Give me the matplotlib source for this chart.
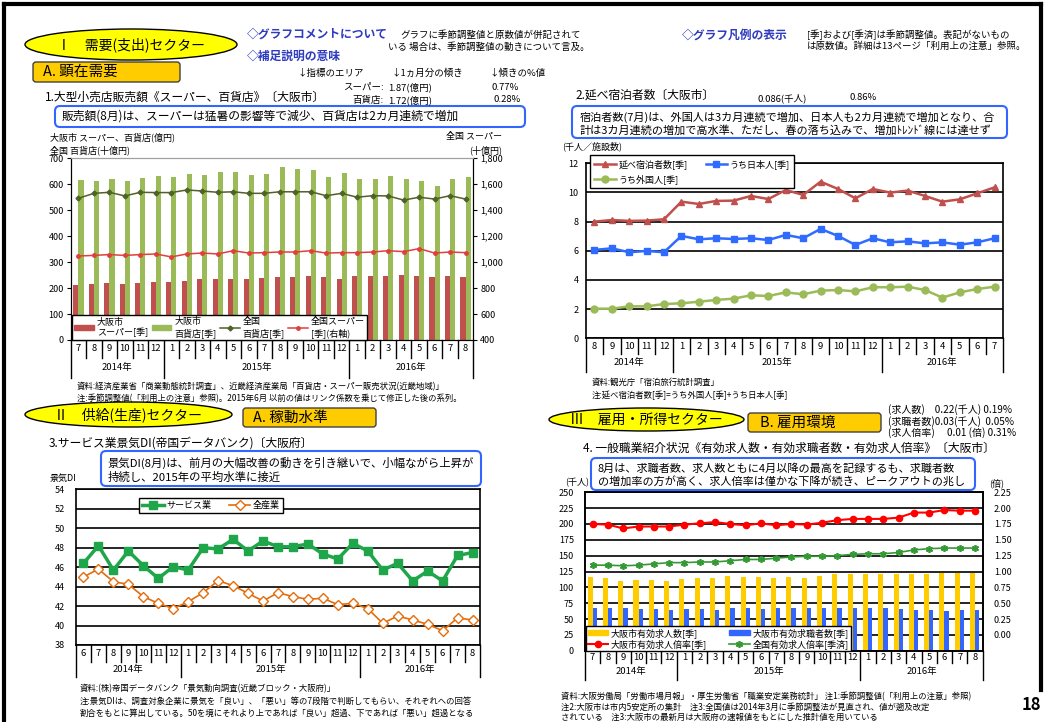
import numpy as np
import matplotlib
matplotlib.use('Agg')
import matplotlib.pyplot as plt
from matplotlib.patches import Ellipse, FancyBboxPatch, Patch
from matplotlib.lines import Line2D
from matplotlib.transforms import Affine2D, blended_transform_factory

plt.rcParams['font.family'] = ['Noto Sans CJK JP', 'DejaVu Sans']
plt.rcParams['axes.unicode_minus'] = False

# ---- data -------------------------------------------------------------
# 1. 大型小売店販売額 (2014/7 - 2016/8)
months_1 = ['7', '8', '9', '10', '11', '12', '1', '2', '3', '4', '5', '6', '7', '8', '9', '10', '11', '12',
            '1', '2', '3', '4', '5', '6', '7', '8']
years_1 = ['2014年', '2015年', '2016年']
year_len_1 = [6, 12, 8]
osaka_super = [210, 215, 218, 217, 220, 224, 224, 229, 234, 234, 236, 234, 240, 242, 243, 248, 242, 236,
               245, 245, 245, 252, 248, 242, 248, 242]
osaka_dept = [615, 612, 620, 612, 625, 630, 628, 640, 635, 647, 647, 635, 640, 665, 660, 653, 628, 643,
              622, 622, 630, 622, 612, 595, 622, 628]
national_dept = [546, 565, 569, 555, 569, 568, 568, 578, 574, 569, 571, 565, 565, 571, 571, 571, 556, 565,
                 550, 556, 555, 539, 550, 543, 556, 543]
national_super = [1047, 1052, 1058, 1052, 1058, 1063, 1040, 1063, 1070, 1063, 1088, 1070, 1073, 1078, 1078,
                  1088, 1070, 1073, 1073, 1078, 1088, 1081, 1104, 1070, 1078, 1073]

# 2. 延べ宿泊者数 (2014/8 - 2016/7)
months_2 = ['8', '9', '10', '11', '12', '1', '2', '3', '4', '5', '6', '7', '8', '9', '10', '11', '12',
            '1', '2', '3', '4', '5', '6', '7']
years_2 = ['2014年', '2015年', '2016年']
year_len_2 = [5, 12, 7]
total_guests = [8.0, 8.11, 8.05, 8.07, 8.16, 9.37, 9.21, 9.42, 9.44, 9.76, 9.55, 10.17, 9.83, 10.74, 10.24,
                9.6, 10.24, 9.99, 10.13, 9.76, 9.37, 9.53, 9.94, 10.35]
japanese_guests = [6.06, 6.17, 5.9, 5.99, 5.9, 7.02, 6.79, 6.86, 6.81, 6.86, 6.74, 7.09, 6.86, 7.5, 7.02,
                   6.4, 6.86, 6.58, 6.65, 6.51, 6.58, 6.42, 6.58, 6.86]
foreign_guests = [2.03, 2.03, 2.19, 2.19, 2.35, 2.4, 2.51, 2.63, 2.72, 2.95, 2.9, 3.15, 3.02, 3.27, 3.31,
                  3.22, 3.5, 3.5, 3.54, 3.31, 2.79, 3.15, 3.38, 3.54]

# 3. サービス業景気DI (2014/6 - 2016/8)
months_3 = ['6', '7', '8', '9', '10', '11', '12', '1', '2', '3', '4', '5', '6', '7', '8', '9', '10', '11',
            '12', '1', '2', '3', '4', '5', '6', '7', '8']
years_3 = ['2014年', '2015年', '2016年']
year_len_3 = [7, 12, 8]
service_di = [46.4, 48.2, 45.7, 47.66, 46.15, 44.85, 46.05, 45.7, 48.0, 47.87, 48.86, 47.66, 48.69, 48.1,
              48.1, 48.38, 47.35, 46.84, 48.45, 47.66, 45.7, 46.4, 44.58, 45.6, 44.58, 47.2, 47.5]
all_industry_di = [45.0, 45.8, 44.5, 44.24, 42.97, 42.28, 41.74, 42.45, 43.38, 44.61, 44.1, 43.31, 42.52,
                   43.38, 42.97, 42.7, 42.8, 42.15, 42.28, 41.74, 40.23, 40.98, 40.57, 40.13, 39.47, 40.78,
                   40.57]

# 4. 一般職業紹介状況 (2014/7 - 2016/8)
months_4 = months_1
years_4 = years_1
year_len_4 = year_len_1
job_offers = [115.8, 114.2, 110.5, 111.6, 111.6, 110.5, 112.6, 114.7, 114.7, 117.9, 115.8, 115.8, 114.7,
              115.8, 114.7, 117.9, 120.5, 121.6, 121.0, 121.0, 121.0, 121.6, 121.6, 122.6, 122.6, 122.6]
job_seekers = [66.8, 66.8, 66.8, 65.8, 65.8, 64.7, 65.8, 65.8, 64.7, 67.9, 67.9, 65.8, 66.8, 66.8, 66.8,
               66.8, 66.8, 66.8, 66.8, 66.8, 65.8, 63.7, 63.7, 62.6, 63.7, 63.7]
osaka_ratio = [1.75, 1.74, 1.68, 1.71, 1.71, 1.71, 1.74, 1.76, 1.78, 1.75, 1.73, 1.76, 1.73, 1.75, 1.74,
               1.77, 1.81, 1.83, 1.83, 1.83, 1.85, 1.93, 1.93, 1.97, 1.96, 1.96]
national_ratio = [1.10, 1.10, 1.09, 1.10, 1.12, 1.14, 1.14, 1.15, 1.15, 1.17, 1.19, 1.19, 1.21, 1.23, 1.24,
                  1.24, 1.25, 1.27, 1.28, 1.28, 1.30, 1.34, 1.36, 1.37, 1.37, 1.37]

# ---- page setup -------------------------------------------------------
W, H = 1045, 722
fig = plt.figure(figsize=(W / 100, H / 100), dpi=100)
# pixel coordinates, origin at top-left
PX = Affine2D().scale(1 / W, -1 / H).translate(0, 1) + fig.transFigure

BLUE_HEAD = '#2E3BBF'
SMALL = 6.8
NOTE = 6.0
TICK = 6.5


def txt(x, y, s, size=SMALL, ha='left', **kw):
    fig.text(x, y, s, transform=PX, fontsize=size, ha=ha, va='center', **kw)


def rbox(x0, y0, x1, y1, fc='white', ec='#3366FF', lw=1.5, r=5):
    fig.add_artist(FancyBboxPatch((x0, y0), x1 - x0, y1 - y0, transform=PX,
                                  boxstyle='round,pad=0,rounding_size=%g' % r, fc=fc, ec=ec, lw=lw))


def oval(x0, y0, x1, y1, s):
    fig.add_artist(Ellipse(((x0 + x1) / 2, (y0 + y1) / 2), x1 - x0, y1 - y0, transform=PX,
                           fc='#FFFF00', ec='black', lw=1))
    txt((x0 + x1) / 2, (y0 + y1) / 2, s, size=10, ha='center')


def add_ax(l, t, r, b):
    return fig.add_axes([l / W, 1 - b / H, (r - l) / W, (b - t) / H])


def month_table(ax, months, years, year_len, plot_h, row1, row2):
    tr = blended_transform_factory(ax.transData, ax.transAxes)
    y1 = -row1 / plot_h
    y2 = -row2 / plot_h
    for i, m in enumerate(months):
        ax.text(i, y1 / 2, m, transform=tr, ha='center', va='center', fontsize=TICK + 0.3, clip_on=False)
    bounds = list(np.cumsum(year_len))
    for k in range(len(months) + 1):
        bottom = y2 if (k == 0 or k in bounds) else y1
        ax.plot([k - 0.5, k - 0.5], [0, bottom], transform=tr, color='black', lw=1, clip_on=False)
    start = 0
    for name, n in zip(years, year_len):
        ax.text(start + n / 2 - 0.5, (y1 + y2) / 2, name, transform=tr, ha='center', va='center',
                fontsize=TICK + 0.3, clip_on=False)
        start += n


def box_legend(ax, handles, labels, anchor, loc, ncol, **kw):
    opts = dict(fontsize=TICK, frameon=True, fancybox=False, edgecolor='black', framealpha=1,
                borderaxespad=0, handlelength=2.4, handletextpad=0.3)
    opts.update(kw)
    leg = ax.legend(handles, labels, ncol=ncol, loc=loc, bbox_to_anchor=anchor, **opts)
    leg.get_frame().set_linewidth(1)
    return leg


# outer frame: top, left, and right (the right edge stops above the page number)
fig.add_artist(Line2D([4, 1041], [4, 4], transform=PX, color='black', lw=3))
fig.add_artist(Line2D([4, 4], [4, 722], transform=PX, color='black', lw=3))
fig.add_artist(Line2D([1041, 1041], [4, 690], transform=PX, color='black', lw=3))

# ---- header ---------------------------------------------------------------
oval(25, 29, 237, 60, 'Ⅰ　需要(支出)セクター')
rbox(33, 62, 180, 82, fc='#FFCC00', ec='#404040', lw=1, r=3)
txt(43, 72, 'A. 顕在需要', size=10.5)

txt(247, 34, '◇グラフコメントについて', size=8.5, color=BLUE_HEAD, fontweight='bold')
txt(247, 56, '◇補足説明の意味', size=8.5, color=BLUE_HEAD, fontweight='bold')
txt(400, 35, 'グラフに季節調整値と原数値が併記されて')
txt(388, 47, 'いる 場合は、季節調整値の動きについて言及。')
txt(682, 35, '◇グラフ凡例の表示', size=8.5, color=BLUE_HEAD, fontweight='bold')
txt(807, 35, '[季]および[季済]は季節調整値。表記がないもの')
txt(807, 46, 'は原数値。詳細は13ページ「利用上の注意」参照。')

txt(297, 73, '↓指標のエリア')
txt(392, 73, '↓1ヵ月分の傾き')
txt(490, 73, '↓傾きの%値')
txt(384, 87, 'スーパー:', ha='right')
txt(388, 87, '1.87(億円)')
txt(492, 87, '0.77%')
txt(384, 100, '百貨店:', ha='right')
txt(388, 100, '1.72(億円)')
txt(494, 100, '0.28%')

# ---- chart 1 ------------------------------------------------------------
txt(45, 97, '1.大型小売店販売額《スーパー、百貨店》〔大阪市〕', size=8.5)
rbox(55, 106, 525, 127)
txt(62, 116.5, '販売額(8月)は、スーパーは猛暑の影響等で減少、百貨店は2カ月連続で増加', size=8.5)
txt(50, 137, '大阪市 スーパー、百貨店(億円)', size=TICK)
txt(50, 150, '全国 百貨店(十億円)', size=TICK)
txt(502, 137, '全国 スーパー', size=TICK, ha='right')
txt(502, 150, '(十億円)', size=TICK, ha='right')

ax1 = add_ax(70.7, 158.3, 473.3, 340)
x1 = np.arange(len(months_1))
ax1.bar(x1 - 0.165, osaka_super, width=0.33, color='#C0504D', zorder=2)
ax1.bar(x1 + 0.165, osaka_dept, width=0.33, color='#9BBB59', zorder=2)
ax1.plot(x1, national_dept, color='#4F6228', marker='D', ms=2.5, lw=1.1, zorder=3)
ax1.set_xlim(-0.5, len(months_1) - 0.5)
ax1.set_ylim(0, 700)
ax1.set_yticks(range(0, 701, 100))
ax1.set_xticks([])
ax1b = ax1.twinx()
ax1b.plot(x1, national_super, color='#E0403A', marker='o', ms=2.5, lw=1.1, zorder=3)
ax1b.set_ylim(400, 1800)
ax1b.set_yticks(range(400, 1801, 200))
ax1b.set_yticklabels(['{:,}'.format(v) for v in range(400, 1801, 200)])
for a in (ax1, ax1b):
    a.tick_params(axis='y', direction='out', length=3, labelsize=TICK, pad=2)
    a.spines['top'].set_color('#A0A0A0')
month_table(ax1, months_1, years_1, year_len_1, 340 - 158.3, 18, 38)

h1 = [Patch(color='#C0504D'), Patch(color='#9BBB59'),
      Line2D([], [], color='#4F6228', marker='D', ms=2.5, lw=1.1),
      Line2D([], [], color='#E0403A', marker='o', ms=2.5, lw=1.1)]
l1 = ['大阪市\nスーパー[季]', '大阪市\n百貨店[季]', '全国\n百貨店[季]', '全国スーパー\n[季](右軸)']
box_legend(ax1b, h1, l1, (0.003, 0.0), 'lower left', 4, handlelength=2.2, handleheight=0.5,
           columnspacing=0.4, borderpad=0.25, labelspacing=0.1)

txt(77, 387, '資料:経済産業省「商業動態統計調査」、近畿経済産業局「百貨店・スーパー販売状況(近畿地域)」', size=NOTE)
txt(77, 399, '注:季節調整値(「利用上の注意」参照)。2015年6月 以前の値はリンク係数を乗じて修正した後の系列。', size=NOTE)

# ---- chart 2 ------------------------------------------------------------
txt(575, 95, '2.延べ宿泊者数〔大阪市〕', size=8.5)
txt(757, 98, '0.086(千人)')
txt(850, 98, '0.86%')
rbox(572, 106, 1007, 138)
txt(580, 117, '宿泊者数(7月)は、外国人は3カ月連続で増加、日本人も2カ月連続で増加となり、合', size=8.0)
txt(580, 130.5, '計は3カ月連続の増加で高水準、ただし、春の落ち込みで、増加ﾄﾚﾝﾄﾞ線には達せず', size=8.0)
txt(562, 146, '(千人／施設数)', size=TICK)

ax2 = add_ax(585.7, 163.3, 1003.3, 338.3)
x2 = np.arange(len(months_2))
p_tot, = ax2.plot(x2, total_guests, color='#C0504D', marker='^', ms=5, lw=1.8)
p_jp, = ax2.plot(x2, japanese_guests, color='#2F6BFF', marker='s', ms=4.5, lw=1.8)
p_fg, = ax2.plot(x2, foreign_guests, color='#9BBB59', marker='o', ms=5, lw=1.8)
ax2.set_xlim(-0.5, len(months_2) - 0.5)
ax2.set_ylim(0, 12)
ax2.set_yticks(range(0, 13, 2))
ax2.set_xticks([])
ax2.grid(axis='y', color='black', lw=1.2)
ax2.set_axisbelow(True)
ax2.tick_params(axis='y', length=0, labelsize=TICK, pad=5)
for s in ax2.spines.values():
    s.set_linewidth(1.2)
month_table(ax2, months_2, years_2, year_len_2, 175, 15.7, 33.4)
box_legend(ax2, [p_tot, p_fg, p_jp], ['延べ宿泊者数[季]', 'うち外国人[季]', 'うち日本人[季]'],
           (0.01, 1.047), 'upper left', 2, columnspacing=2.0, borderpad=0.45, labelspacing=0.55)
txt(592, 382, '資料:観光庁「宿泊旅行統計調査」', size=NOTE)
txt(592, 395, '注:延べ宿泊者数[季]=うち外国人[季]+うち日本人[季]', size=NOTE)

# ---- chart 3 ------------------------------------------------------------
oval(25, 402, 232, 427, 'Ⅱ　供給(生産)セクター')
rbox(243, 408, 376, 427, fc='#FFCC00', ec='#404040', lw=1, r=3)
txt(253, 418, 'A. 稼動水準', size=10.5)
txt(49, 443, '3.サービス業景気DI(帝国データバンク)〔大阪府〕', size=8.5)
rbox(101, 451, 481, 486)
txt(108, 463, '景気DI(8月)は、前月の大幅改善の動きを引き継いで、小幅ながら上昇が', size=8.2)
txt(108, 477, '持続し、2015年の平均水準に接近', size=8.2)
txt(50, 478, '景気DI', size=TICK)

ax3 = add_ax(76, 489.3, 480, 645)
x3 = np.arange(len(months_3))
p_sv, = ax3.plot(x3, service_di, color='#1FA54A', marker='s', ms=5.5, lw=2.5)
p_all, = ax3.plot(x3, all_industry_di, color='#E46C0A', marker='D', ms=5, mfc='white', mew=1, lw=1.2)
ax3.set_xlim(-0.5, len(months_3) - 0.5)
ax3.set_ylim(38, 54)
ax3.set_yticks(range(38, 55, 2))
ax3.set_xticks([])
ax3.grid(axis='y', color='black', lw=1.2)
ax3.set_axisbelow(True)
ax3.tick_params(axis='y', length=0, labelsize=TICK, pad=8)
for s in ax3.spines.values():
    s.set_linewidth(1.2)
month_table(ax3, months_3, years_3, year_len_3, 155.7, 16.7, 32.3)
box_legend(ax3, [p_sv, p_all], ['サービス業', '全産業'], (0.156, 0.946), 'upper left', 2,
           columnspacing=1.9, borderpad=0.35)
txt(80, 689, '資料:(株)帝国データバンク「景気動向調査(近畿ブロック・大阪府)」', size=NOTE)
txt(80, 701, '注:景気DIは、調査対象企業に景気を「良い」、「悪い」等の7段階で判断してもらい、それぞれへの回答', size=NOTE)
txt(80, 713, '割合をもとに算出している。50を境にそれより上であれば「良い」超過、下であれば「悪い」超過となる', size=NOTE)

# ---- chart 4 ------------------------------------------------------------
oval(549, 408, 744, 431, 'Ⅲ　雇用・所得セクター')
rbox(748, 413, 881, 432, fc='#FFCC00', ec='#404040', lw=1, r=3)
txt(760, 423, 'B. 雇用環境', size=10.5)
txt(888, 410, '(求人数)　0.22(千人) 0.19%', size=7.2)
txt(888, 421.5, '(求職者数)0.03(千人)  0.05%', size=7.2)
txt(888, 433, '(求人倍率)　 0.01 (倍) 0.31%', size=7.2)
txt(583, 448, '4. 一般職業紹介状況《有効求人数・有効求職者数・有効求人倍率》〔大阪市〕', size=8.5)
rbox(591, 458, 975, 490)
txt(598, 468.5, '8月は、求職者数、求人数ともに4月以降の最高を記録するも、求職者数', size=8.0)
txt(598, 481, 'の増加率の方が高く、求人倍率は僅かな下降が続き、ピークアウトの兆し', size=8.0)
txt(577, 483, '(千人)', size=TICK, ha='center')
txt(997, 483, '(倍)', size=TICK, ha='center')

ax4 = add_ax(585, 492.3, 982.7, 650.7)
x4 = np.arange(len(months_4))
ax4.bar(x4 - 0.165, job_offers, width=0.33, color='#FFCC00', zorder=2)
ax4.bar(x4 + 0.14, job_seekers, width=0.28, color='#3366FF', zorder=2)
ax4.set_xlim(-0.5, len(months_4) - 0.5)
ax4.set_ylim(0, 250)
ax4.set_yticks(range(0, 251, 25))
ax4.set_xticks([])
ax4.grid(axis='y', color='black', lw=1.2, zorder=0)
ax4.set_axisbelow(True)
ax4b = ax4.twinx()
p_or, = ax4b.plot(x4, osaka_ratio, color='#FF0000', marker='o', ms=4.5, lw=1.5)
p_nr, = ax4b.plot(x4, national_ratio, color='#339933', marker=(6, 2, 0), ms=5, mew=1.2, lw=1.2)
ax4b.set_ylim(-0.25, 2.25)
ax4b.set_yticks(np.arange(0, 2.26, 0.25))
ax4b.set_yticklabels(['%.2f' % v for v in np.arange(0, 2.26, 0.25)])
for a in (ax4, ax4b):
    a.tick_params(axis='y', length=0, labelsize=TICK, pad=8)
    for s in a.spines.values():
        s.set_linewidth(1.2)
month_table(ax4, months_4, years_4, year_len_4, 158.4, 12.6, 29.3)
h4 = [Patch(color='#FFCC00'), p_or, Patch(color='#3366FF'), p_nr]
l4 = ['大阪市有効求人数[季]', '大阪市有効求人倍率[季]', '大阪市有効求職者数[季]', '全国有効求人倍率[季済]']
box_legend(ax4b, h4, l4, (0.002, 0.0), 'lower left', 2, handlelength=2.3, handleheight=0.5,
           columnspacing=2.4, borderpad=0.2, labelspacing=0.15)
txt(561, 697, '資料:大阪労働局「労働市場月報」・厚生労働省「職業安定業務統計」 注1:季節調整値(「利用上の注意」参照)',
    size=NOTE)
txt(561, 707.5, '注2:大阪市は市内5安定所の集計　注3:全国値は2014年3月に季節調整法が見直され、値が遡及改定', size=NOTE)
txt(561, 717, 'されている　注3:大阪市の最新月は大阪府の速報値をもとにした推計値を用いている', size=NOTE)
txt(1031, 705, '18', size=12, ha='center', fontweight='bold')

fig.savefig('out.png', dpi=100)
